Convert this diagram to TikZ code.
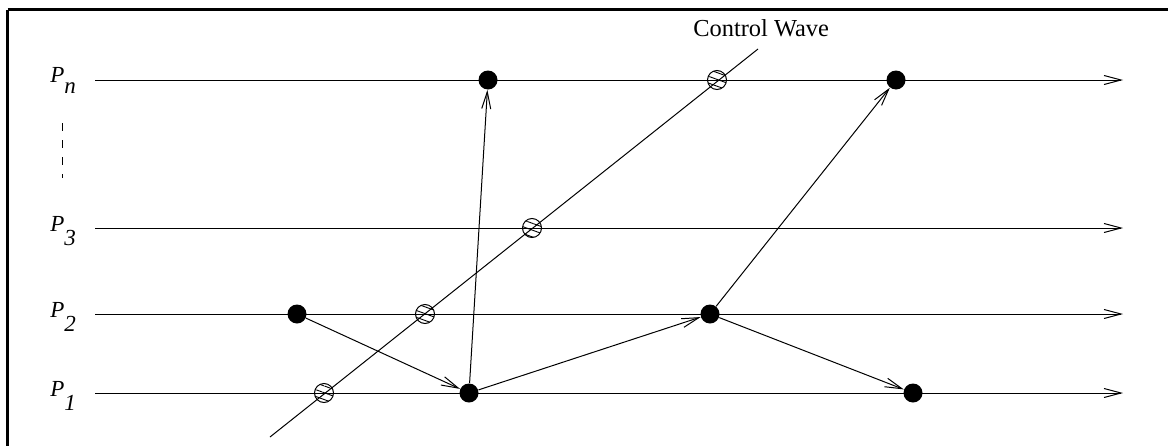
\documentclass[tikz,border=0pt]{standalone}
\usepackage{fontspec}
\setmainfont{Liberation Serif}
\usetikzlibrary{arrows.meta,patterns.meta}
\begin{document}
\begin{tikzpicture}[x=0.5pt,y=-0.5pt,
  tl/.style={line width=0.5pt},
  arr/.style={tl,-{Straight Barb[length=8.5pt,width=4.5pt]}},
  ev/.style={circle,fill=black,inner sep=0pt,minimum size=9.5pt},
  ck/.style={circle,draw,line width=0.5pt,inner sep=0pt,minimum size=9.5pt,
    pattern={Lines[angle=-20,distance=3.2pt,line width=0.45pt]}},
  plab/.style={anchor=base west,inner sep=0pt,font=\fontsize{11.5}{13}\selectfont},
  border/.style={line width=1.5pt}]
\useasboundingbox (0,0) rectangle (1168,445);
\clip (0,0) rectangle (1168,445);
\draw[border] (7.7,9.5) -- (1180,9.5);
\draw[border] (7.7,9.5) -- (7.7,460);
% process lines
\foreach \n/\y in {n/80,3/228,2/314,1/393}{
  \coordinate (s\n) at (95,\y);
  \coordinate (e\n) at (1123,\y);
  \draw[arr] (s\n) -- (e\n);
}
% labels
\node[plab] (ln) at (50,82.5) {\textit{P}\raisebox{-5.5pt}{\textit{n}}};
\node[plab] (l3) at (50,231) {\textit{P}\raisebox{-7pt}{\textit{3}}};
\node[plab] (l2) at (50,317) {\textit{P}\raisebox{-7pt}{\textit{2}}};
\node[plab] (l1) at (50,396) {\textit{P}\raisebox{-7pt}{\textit{1}}};
% dots
\coordinate (d1) at (62,123);
\coordinate (d2) at (62,178);
\draw[tl,dash pattern=on 4pt off 4.5pt] (d1) -- (d2);
% control wave
\coordinate (w1) at (270,437);
\coordinate (w2) at (758,49);
\draw[tl] (w1) -- (w2);
\node[anchor=base west,inner sep=0pt,font=\fontsize{12.2}{14}\selectfont] (cw) at (693,36.7) {Control Wave};
\node[ck] (c1) at (324,393) {};
\node[ck] (c2) at (425,314) {};
\node[ck] (c3) at (532,228) {};
\node[ck] (c4) at (717,80) {};
% events
\node[ev] (a) at (297,314) {};
\node[ev] (b) at (469,393) {};
\node[ev] (c) at (488,80) {};
\node[ev] (d) at (710,314) {};
\node[ev] (e) at (896,80) {};
\node[ev] (f) at (913,393) {};
\draw[arr] (a) -- (b);
\draw[arr] (b) -- (c);
\draw[arr] (b) -- (d);
\draw[arr] (d) -- (e);
\draw[arr] (d) -- (f);
\end{tikzpicture}
\end{document}
